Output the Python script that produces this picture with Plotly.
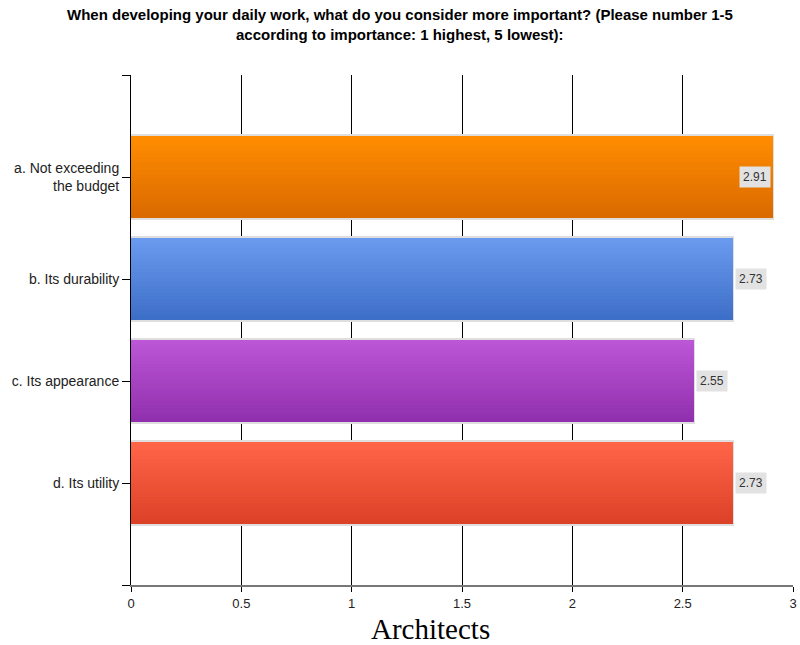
import plotly.graph_objects as go

title_lines = ["When developing your daily work, what do you consider more important? (Please number 1-5",
               "according to importance: 1 highest, 5 lowest):"]
categories = ["a. Not exceeding<br>the budget", "b. Its durability", "c. Its appearance", "d. Its utility"]
values = [2.91, 2.73, 2.55, 2.73]
top_colors = ["#FF8C00", "#6A9AEE", "#BB56D6", "#FF6447"]
bottom_colors = ["#DA6A00", "#3E6FC8", "#9130AE", "#DC4228"]
x_ticks = [0, 0.5, 1, 1.5, 2, 2.5, 3]
x_tick_labels = ["0", "0.5", "1", "1.5", "2", "2.5", "3"]

positions = list(range(len(categories)))
N = 24
BAR_W = 0.8


def hex2rgb(h):
    h = h.lstrip("#")
    return [int(h[i:i + 2], 16) for i in (0, 2, 4)]


def mix(c1, c2, t):
    a, b = hex2rgb(c1), hex2rgb(c2)
    return "rgb(%d,%d,%d)" % tuple(round(a[i] + (b[i] - a[i]) * t) for i in range(3))


fig = go.Figure()

# light border behind bars
fig.add_trace(go.Bar(
    x=values, y=positions, orientation="h", width=BAR_W + 0.03,
    marker=dict(color="#dedede", line=dict(width=2, color="#dedede")),
    hoverinfo="skip", showlegend=False,
))

# gradient made of overlapping strips
for k in range(N):
    t = k / (N - 1)
    off = -BAR_W / 2 + k * BAR_W / N
    w = BAR_W - k * BAR_W / N
    fig.add_trace(go.Bar(
        x=values, y=positions, orientation="h",
        offset=off, width=w,
        marker=dict(color=[mix(top_colors[i], bottom_colors[i], t) for i in range(len(values))],
                    line=dict(width=0)),
        hoverinfo="skip", showlegend=False,
    ))

# value labels
for v, p in zip(values, positions):
    inside = v + 0.16 > 3
    fig.add_annotation(
        x=v, y=p, xref="x", yref="y", text=f"{v:.2f}", showarrow=False,
        xanchor="right" if inside else "left", xshift=-2 if inside else 2,
        bgcolor="#e2e2e2", borderpad=3,
        font=dict(family="Arial, Liberation Sans", size=12, color="#333333"),
    )

# title (two lines), centred on the page (400px)
title_x = (400 - 131) / 662
for line, yp in zip(title_lines, [(585 - 15) / 510, (585 - 34) / 510]):
    fig.add_annotation(
        x=title_x, y=yp, xref="paper", yref="paper", text=f"<b>{line}</b>", showarrow=False,
        xanchor="center", yanchor="middle",
        font=dict(family="Arial, Liberation Sans", size=15, color="black"),
    )

fig.add_annotation(
    x=0.453, y=-0.086, xref="paper", yref="paper", text="Architects", showarrow=False,
    xanchor="center", yanchor="middle",
    font=dict(family="Liberation Serif, Times New Roman, serif", size=29, color="black"),
)

fig.update_layout(
    width=800, height=645, autosize=False,
    margin=dict(l=131, r=7, t=75, b=60),
    paper_bgcolor="white", plot_bgcolor="white",
    barmode="overlay", bargap=0,
    xaxis=dict(
        range=[0, 3], tickvals=x_ticks, ticktext=x_tick_labels,
        showgrid=True, gridcolor="black", gridwidth=1,
        zeroline=False, showline=True, linecolor="#777777", linewidth=2,
        ticks="outside", ticklen=5, tickcolor="black", tickwidth=1,
        tickfont=dict(family="Arial, Liberation Sans", size=13, color="#222222"),
        fixedrange=True, automargin=False,
    ),
    yaxis=dict(
        range=[4, -1],
        tickvals=[-1] + positions + [4], ticktext=[""] + categories + [""],
        showgrid=False, zeroline=False, showline=True, linecolor="black", linewidth=1,
        ticks="outside", ticklen=8, tickcolor="black", tickwidth=1,
        tickfont=dict(family="Arial, Liberation Sans", size=14, color="#222222"),
        fixedrange=True, automargin=False,
    ),
)

fig.write_html("out.html", config={"displayModeBar": False},
               post_script="document.body.style.margin='0';")
